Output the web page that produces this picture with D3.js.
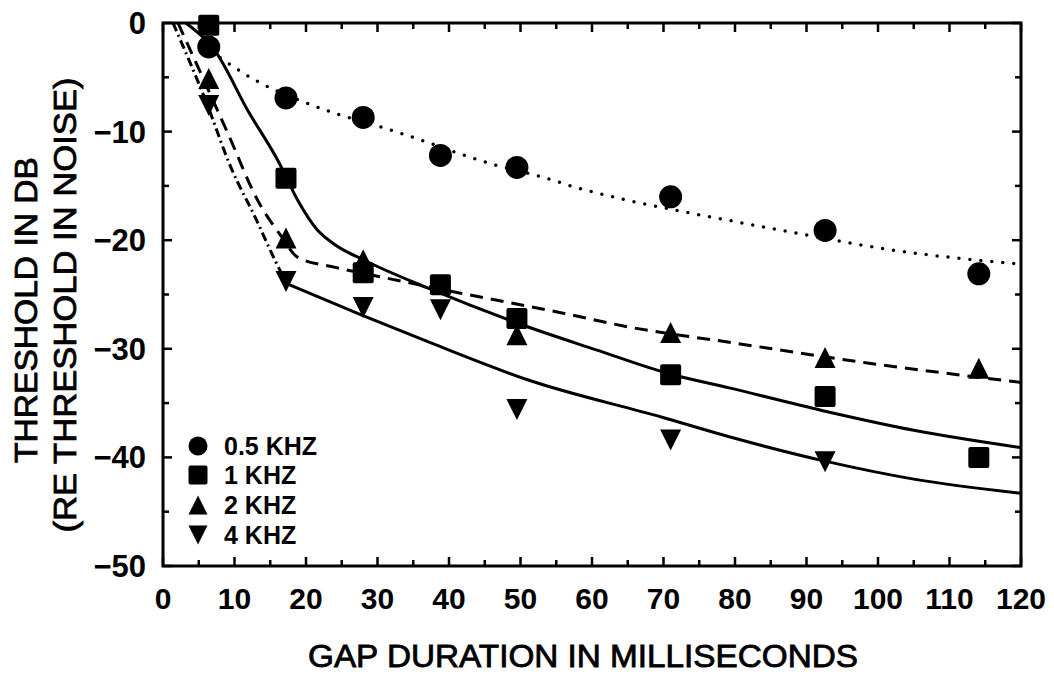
<!DOCTYPE html>
<html>
<head>
<meta charset="utf-8">
<script src="https://cdn.jsdelivr.net/npm/d3@7"></script>
<style>
  body { margin: 0; background: #fff; }
  svg { display: block; }
  text { fill: #000; }
</style>
</head>
<body>
<div class="graph"></div>
<script>
// data //
let gaps = [6.4, 17.2, 28, 38.8, 49.5, 71, 92.6, 114.1];
let khz05 = [-2.2, -6.9, -8.7, -12.2, -13.3, -16.0, -19.1, -23.1];
let khz1 = [-0.2, -14.3, -23.0, -24.1, -27.2, -32.4, -34.4, -40.0];
let khz2 = [-5.1, -19.8, -21.8, null, -28.7, -28.5, -30.8, -31.8];
let khz4 = [-7.6, -23.8, -26.2, -26.4, -35.6, -38.4, -40.4, null];

// fitted curves //
let fit05 = [[8, -3.2], [10, -4.1], [13, -5.3], [19, -7.1], [24, -8.3], [30.6, -9.6], [35.3, -10.6],
  [41.8, -12.1], [46.6, -13.1], [52.6, -14.1], [58.6, -15.3], [64.8, -16.3], [72.2, -17.3],
  [78.5, -18.1], [89, -19.4], [103, -21.0], [120, -22.2]];
let fit1 = [[3.2, 0], [7.3, -2.6], [11.9, -8.1], [16.1, -12.7], [18.9, -16.4], [21.5, -19.0],
  [24, -20.4], [28, -21.8], [37, -24.4], [49.4, -27.6], [60.6, -30.1], [70.8, -32.3],
  [79.2, -33.6], [92.3, -35.7], [105, -37.5], [120, -39.1]];
let fit2 = [[2.1, 0], [9.1, -10.2], [13.3, -16.4], [16.5, -19.6], [18.9, -21.6], [24.1, -22.5],
  [30.6, -23.4], [41.8, -24.9], [55.8, -26.7], [65.2, -28.0], [79.2, -29.4], [98.5, -31.3], [120, -33.1]];
let fit4a = [[1.4, 0], [6, -7.2], [9.5, -13.3], [12.9, -17.9], [15.7, -21.9], [17.3, -24.0]];
let fit4b = [[17.3, -24.0], [27.8, -26.9], [38, -29.6], [51.2, -32.9], [69.8, -36.3],
  [79.2, -38.1], [92.3, -40.3], [105, -42.0], [120, -43.3]];

let legendLabels = ['0.5 KHZ', '1 KHZ', '2 KHZ', '4 KHZ'];
let xTicks = [0, 10, 20, 30, 40, 50, 60, 70, 80, 90, 100, 110, 120];
let yTicks = [0, -10, -20, -30, -40, -50];

//sizes//
let w = 1054;
let h = 683;
let padL = 163, padR = 1021, padT = 23, padB = 566;

let xScale = d3.scaleLinear().domain([0, 120]).range([padL, padR]);
let yScale = d3.scaleLinear().domain([-50, 0]).range([padB, padT]);

let svg = d3.select('.graph')
  .append('svg')
  .attr('width', w)
  .attr('height', h)
  .style('font-family', "'Liberation Sans', Arial, sans-serif");

// inward ticks on all four sides //
let minorX = d3.range(0, 121, 5);
let minorY = d3.range(-50, 1, 5);

function tickLen(v) { return v % 10 === 0 ? 9 : 6; }

let frame = svg.append('g');
frame.selectAll('.tb').data(minorX).enter().append('line')
  .attr('x1', d => xScale(d)).attr('x2', d => xScale(d))
  .attr('y1', padB).attr('y2', d => padB - tickLen(d))
  .attr('stroke', '#000').attr('stroke-width', 2.5);
frame.selectAll('.tt').data(minorX).enter().append('line')
  .attr('x1', d => xScale(d)).attr('x2', d => xScale(d))
  .attr('y1', padT).attr('y2', d => padT + tickLen(d))
  .attr('stroke', '#000').attr('stroke-width', 2.5);
frame.selectAll('.tl').data(minorY).enter().append('line')
  .attr('y1', d => yScale(d)).attr('y2', d => yScale(d))
  .attr('x1', padL).attr('x2', d => padL + tickLen(d))
  .attr('stroke', '#000').attr('stroke-width', 2.5);
frame.selectAll('.tr').data(minorY).enter().append('line')
  .attr('y1', d => yScale(d)).attr('y2', d => yScale(d))
  .attr('x1', padR).attr('x2', d => padR - tickLen(d))
  .attr('stroke', '#000').attr('stroke-width', 2.5);
frame.append('rect')
  .attr('x', padL).attr('y', padT)
  .attr('width', padR - padL).attr('height', padB - padT)
  .attr('fill', 'none').attr('stroke', '#000').attr('stroke-width', 3);

// tick labels //
svg.selectAll('.xl').data(xTicks).enter().append('text')
  .attr('x', d => xScale(d)).attr('y', 609)
  .attr('text-anchor', 'middle')
  .style('font-size', '30px').style('font-weight', 'bold')
  .text(d => d);
svg.selectAll('.yl').data(yTicks).enter().append('text')
  .attr('x', 146).attr('y', d => yScale(d) + 11)
  .attr('text-anchor', 'end')
  .style('font-size', '31px').style('font-weight', 'bold')
  .text(d => d < 0 ? '\u2212' + Math.abs(d) : d);

// axis titles //
svg.append('text')
  .attr('x', 308).attr('y', 667)
  .attr('textLength', 550).attr('lengthAdjust', 'spacingAndGlyphs')
  .attr('stroke', '#000').attr('stroke-width', 0.8)
  .style('font-size', '31px')
  .text('GAP DURATION IN MILLISECONDS');
svg.append('text')
  .attr('transform', 'translate(37, 310) rotate(-90)')
  .attr('text-anchor', 'middle')
  .attr('textLength', 306).attr('lengthAdjust', 'spacingAndGlyphs')
  .attr('stroke', '#000').attr('stroke-width', 0.8)
  .style('font-size', '31px')
  .text('THRESHOLD IN DB');
svg.append('text')
  .attr('transform', 'translate(76, 305) rotate(-90)')
  .attr('text-anchor', 'middle')
  .attr('textLength', 455).attr('lengthAdjust', 'spacingAndGlyphs')
  .attr('stroke', '#000').attr('stroke-width', 0.8)
  .style('font-size', '31px')
  .text('(RE THRESHOLD IN NOISE)');

// fitted lines //
let line = d3.line()
  .x(d => xScale(d[0]))
  .y(d => yScale(d[1]))
  .curve(d3.curveMonotoneX);

let plot = svg.append('g');
plot.append('path').attr('d', line(fit05))
  .attr('fill', 'none').attr('stroke', '#000').attr('stroke-width', 3.5)
  .attr('stroke-linecap', 'round').attr('stroke-dasharray', '0 11');
plot.append('path').attr('d', line(fit1))
  .attr('fill', 'none').attr('stroke', '#000').attr('stroke-width', 3);
plot.append('path').attr('d', line(fit2))
  .attr('fill', 'none').attr('stroke', '#000').attr('stroke-width', 3)
  .attr('stroke-dasharray', '13 8');
plot.append('path').attr('d', line(fit4a))
  .attr('fill', 'none').attr('stroke', '#000').attr('stroke-width', 3)
  .attr('stroke-dasharray', '9 4 2 4');
plot.append('path').attr('d', line(fit4b))
  .attr('fill', 'none').attr('stroke', '#000').attr('stroke-width', 3);

// markers //
function tri(size, down) {
  let s = size / 2;
  let k = down ? -1 : 1;
  return 'M0,' + (-s * k) + 'L' + (-s) + ',' + (s * k) + 'L' + s + ',' + (s * k) + 'Z';
}

let shapes = [
  {vals: khz05, draw: (g, s) => g.append('circle').attr('r', s / 2)},
  {vals: khz1, draw: (g, s) => g.append('rect').attr('x', -s / 2).attr('y', -s / 2).attr('width', s).attr('height', s).attr('rx', 2)},
  {vals: khz2, draw: (g, s) => g.append('path').attr('d', tri(s, false))},
  {vals: khz4, draw: (g, s) => g.append('path').attr('d', tri(s, true))}
];

// draw order: triangles below, then squares, then circles //
[3, 2, 1, 0].forEach(k => {
  shapes[k].vals.forEach((v, i) => {
    if (v === null) return;
    let g = plot.append('g')
      .attr('transform', 'translate(' + xScale(gaps[i]) + ',' + yScale(v) + ')')
      .attr('fill', '#000');
    shapes[k].draw(g, k === 0 ? 23 : 21);
  });
});

// legend //
let legendY = [446, 475, 505, 535];
legendLabels.forEach((lab, k) => {
  let g = svg.append('g')
    .attr('transform', 'translate(198,' + legendY[k] + ')')
    .attr('fill', '#000');
  shapes[k].draw(g, 19);
  svg.append('text')
    .attr('x', 224).attr('y', legendY[k] + 9)
    .style('font-size', '25px').style('font-weight', 'bold')
    .text(lab);
});
</script>
</body>
</html>
